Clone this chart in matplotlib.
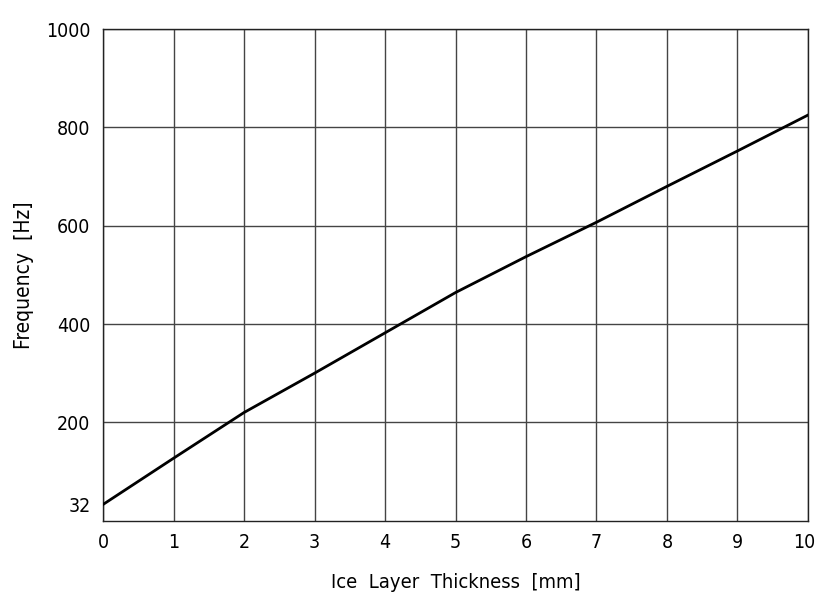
import matplotlib
matplotlib.use("Agg")
import matplotlib.pyplot as plt
from matplotlib.transforms import ScaledTranslation

thickness = [0, 1, 2, 3, 4, 5, 6, 7, 8, 9, 10]
frequency = [33, 127, 220, 300, 382, 464, 537, 607, 680, 752, 825]
yticks = [32, 200, 400, 600, 800, 1000]
xticks = [0, 1, 2, 3, 4, 5, 6, 7, 8, 9, 10]

plt.rcParams['font.family'] = ['DejaVu Sans']
plt.rcParams['font.stretch'] = 'condensed'
plt.rcParams['font.weight'] = 'light'

fig = plt.figure(figsize=(8.15, 5.97), dpi=100)
ax = fig.add_axes([0.1264, 0.1278, 0.8650, 0.8236])
ax.plot(thickness, frequency, color='black', lw=2.0, zorder=3)
ax.set_xlim(0, 10)
ax.set_ylim(0, 1000)
ax.set_xticks(xticks)
ax.set_yticks(yticks)
ax.set_xticklabels([str(x) for x in xticks])
ax.set_yticklabels([str(y) for y in yticks])
ax.grid(True, color='#444444', lw=1.0)
ax.yaxis.get_gridlines()[0].set_visible(False)
ax.tick_params(length=0, labelsize=14, colors='black')
ax.tick_params(axis='y', pad=9)
ax.tick_params(axis='x', pad=9)
last = ax.get_xticklabels()[-1]
last.set_transform(last.get_transform() + ScaledTranslation(-3 / 72, 0, fig.dpi_scale_trans))
for s in ax.spines.values():
    s.set_color('#222222')
    s.set_linewidth(1.0)
ax.set_xlabel('Ice  Layer  Thickness  [mm]', fontsize=14.5, labelpad=15)
ax.set_ylabel('Frequency  [Hz]', fontsize=15, labelpad=9)
fig.savefig('out.png', dpi=100)
